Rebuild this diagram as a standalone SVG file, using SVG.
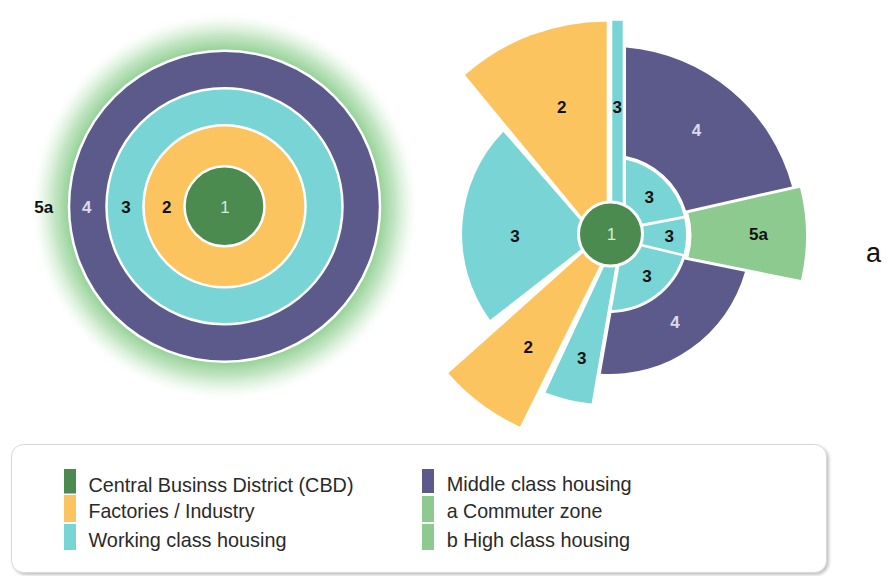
<svg xmlns="http://www.w3.org/2000/svg" width="889" height="576" viewBox="0 0 889 576">
  <defs>
    <style>
      .cbd{fill:#4b8b4f}
      .ind{fill:#fbc45f}
      .wrk{fill:#79d5d5}
      .mid{fill:#5c5a8b}
      .com{fill:#8dca90}
      .ring{stroke:#fff;stroke-width:2.5}
      .num{font-family:"Liberation Sans",Arial,sans-serif;font-size:17px;font-weight:bold;fill:#111;text-anchor:middle}
      .lt{fill:#dadaec}
      .one{font-weight:normal;fill:#d4ecd4}
      .leg{font-family:"Liberation Sans",Arial,sans-serif;font-size:21px;fill:#2a2a2a}
    </style>
    <radialGradient id="halo" cx="224.5" cy="206.3" r="196" gradientUnits="userSpaceOnUse">
      <stop offset="0" stop-color="#92d094" stop-opacity="1"/>
      <stop offset="0.8" stop-color="#92d094" stop-opacity="0.95"/>
      <stop offset="0.87" stop-color="#a2d8a3" stop-opacity="0.65"/>
      <stop offset="0.93" stop-color="#c0e5c0" stop-opacity="0.32"/>
      <stop offset="0.97" stop-color="#e2f3e2" stop-opacity="0.1"/>
      <stop offset="1" stop-color="#ffffff" stop-opacity="0"/>
    </radialGradient>
    <filter id="shadow" x="-5%" y="-10%" width="110%" height="130%">
      <feDropShadow dx="2" dy="2" stdDeviation="1.5" flood-color="#888" flood-opacity="0.5"/>
    </filter>
  </defs>

  <rect width="889" height="576" fill="#fff"/>

  <!-- Concentric zone model -->
  <g id="concentric-model">
    <circle id="cz-commuter-halo" cx="224.5" cy="206.3" r="196" fill="url(#halo)"/>
    <circle id="cz-middle" class="mid ring" cx="224.5" cy="206.3" r="155.5"/>
    <circle id="cz-working" class="wrk ring" cx="224.5" cy="206.3" r="118"/>
    <circle id="cz-industry" class="ind ring" cx="224.5" cy="206.3" r="81"/>
    <circle id="cz-cbd" class="cbd ring" cx="224.5" cy="206.3" r="40"/>
    <text class="num" x="43.7" y="212.5">5a</text>
    <text class="num lt" x="86.7" y="212.5">4</text>
    <text class="num" x="126" y="212.5">3</text>
    <text class="num" x="166.7" y="212.5">2</text>
    <text class="num one" x="225" y="212.5">1</text>
  </g>

  <!-- Sector model -->
  <g id="sector-model">
    <path id="sm-industry-top" class="ind" d="M606.7,21.7 A213,213 0 0 0 465,75 L591,228.1 L606.7,228.1 Z"/>
    <path id="sm-working-strip-top" class="wrk" d="M612.3,20.7 H622.7 V228 H612.3 Z"/>
    <path id="sm-middle-top" class="mid" d="M626,47.5 A188,188 0 0 1 792,186.5 L686,210.5 A79.5,79.5 0 0 0 626,156.1 Z"/>
    <path id="sm-inner-top" class="wrk" d="M626,159.7 A76,76 0 0 1 683.8,215.7 L630,226 L626,226.8 Z"/>
    <path id="sm-inner-mid" class="wrk" d="M630,229 L684.3,218.6 A76,76 0 0 1 683.7,253.9 L630,241.1 Z"/>
    <path id="sm-inner-bottom" class="wrk" d="M630,243.7 L682.5,256.3 A76,76 0 0 1 611.8,310 L621.3,255 Z"/>
    <path id="sm-commuter" class="com" d="M688.3,213 L800,187.7 A196,196 0 0 1 801,280 L688.3,257.3 A79,79 0 0 0 688.3,213 Z"/>
    <path id="sm-middle-low" class="mid" d="M684.5,259.5 L745,271.7 A140,140 0 0 1 600.8,373.7 L611.4,313 A79,79 0 0 0 684.5,259.5 Z"/>
    <path id="sm-working-strip-low" class="wrk" d="M609.5,255 L617.3,255 L591.6,403.5 A171,171 0 0 1 545.5,392.5 Z"/>
    <path id="sm-industry-low" class="ind" d="M604,257 L520,426.7 A213,213 0 0 1 448.3,373.3 L594,243.1 Z"/>
    <path id="sm-working-west" class="wrk" d="M588,229.2 L503.3,131.7 A147,147 0 0 0 490,320 L594,239.2 Z"/>
    <circle id="sm-cbd" class="cbd" cx="610.5" cy="234" r="32" stroke="#fff" stroke-width="3"/>

    <text class="num" x="561.7" y="112.5">2</text>
    <text class="num" x="617.3" y="112.5">3</text>
    <text class="num lt" x="696.5" y="136">4</text>
    <text class="num" x="649.3" y="203.4">3</text>
    <text class="num" x="515" y="242">3</text>
    <text class="num one" x="611.5" y="240">1</text>
    <text class="num" x="669.3" y="242">3</text>
    <text class="num" x="758.5" y="239.5">5a</text>
    <text class="num" x="647" y="282.3">3</text>
    <text class="num lt" x="675" y="328">4</text>
    <text class="num" x="528.3" y="352.5">2</text>
    <text class="num" x="581.7" y="364.3">3</text>
  </g>

  <text id="panel-letter" x="866" y="261.5" font-family="'Liberation Sans',Arial,sans-serif" font-size="27" fill="#111">a</text>

  <!-- Key -->
  <g id="legend">
    <rect x="11.5" y="444.5" width="815" height="128" rx="12" fill="#fff" stroke="#d8d8d8" filter="url(#shadow)"/>
    <g id="key-cbd">
      <rect class="cbd" x="64" y="469" width="12" height="24.5"/>
      <text class="leg" x="88.5" y="491.5" textLength="265" lengthAdjust="spacingAndGlyphs">Central Businss District (CBD)</text>
    </g>
    <g id="key-industry">
      <rect class="ind" x="64" y="495" width="12" height="27"/>
      <text class="leg" x="88.5" y="518" textLength="166" lengthAdjust="spacingAndGlyphs">Factories / Industry</text>
    </g>
    <g id="key-working">
      <rect class="wrk" x="64" y="524" width="12" height="26"/>
      <text class="leg" x="88.5" y="546.5" textLength="198" lengthAdjust="spacingAndGlyphs">Working class housing</text>
    </g>
    <g id="key-middle">
      <rect class="mid" x="422" y="469" width="12" height="24"/>
      <text class="leg" x="446.7" y="491" textLength="185" lengthAdjust="spacingAndGlyphs">Middle class housing</text>
    </g>
    <g id="key-commuter">
      <rect class="com" x="422" y="496" width="12" height="26"/>
      <text class="leg" x="446.7" y="518" textLength="155.6" lengthAdjust="spacingAndGlyphs">a Commuter zone</text>
    </g>
    <g id="key-high">
      <rect class="com" x="422" y="524" width="12" height="26"/>
      <text class="leg" x="446.7" y="546.5" textLength="183.3" lengthAdjust="spacingAndGlyphs">b High class housing</text>
    </g>
  </g>
</svg>
